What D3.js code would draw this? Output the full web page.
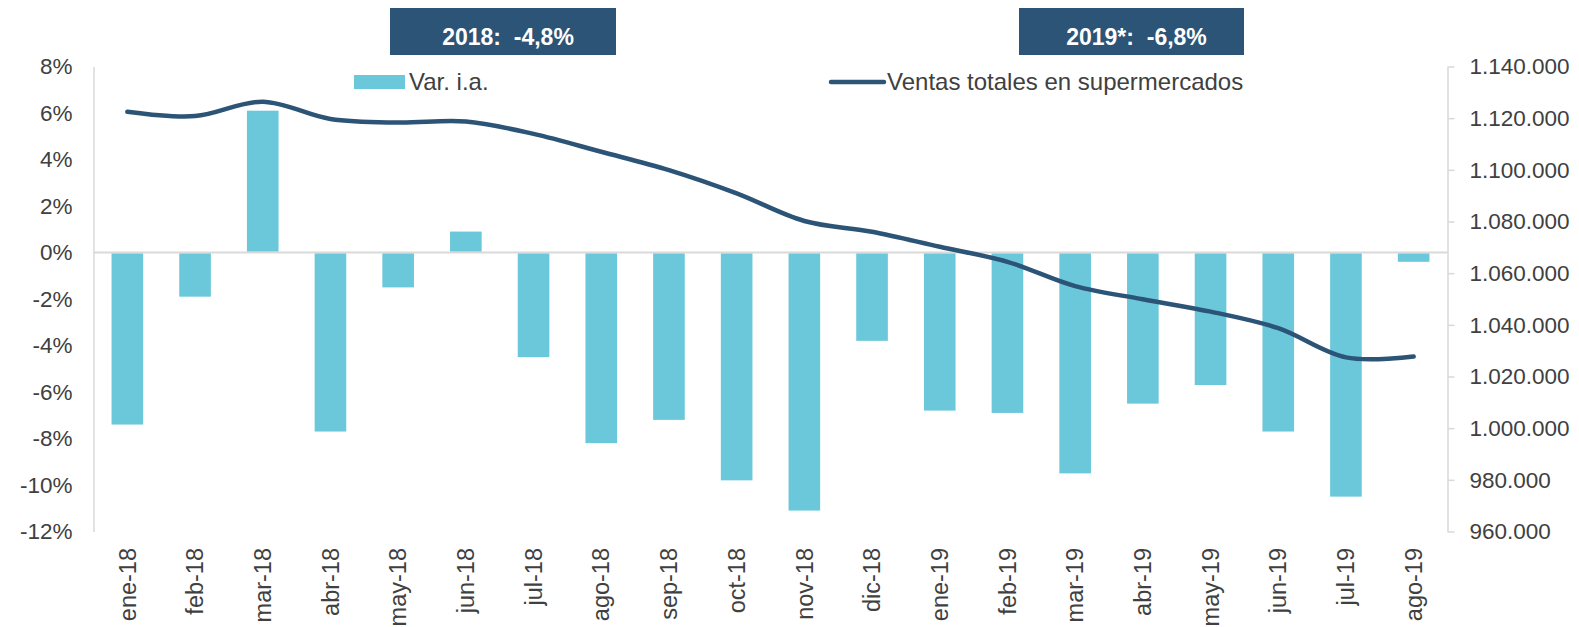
<!DOCTYPE html>
<html>
<head>
<meta charset="utf-8">
<script src="https://cdn.jsdelivr.net/npm/d3@7"></script>
<style>
  body { margin: 0; background: #fff; }
  svg { display: block; font-family: "Liberation Sans", Arial, sans-serif; }
  .axis text { fill: #404040; font-size: 22.5px; }
  .axis path, .axis line { stroke: #d9d9d9; }
</style>
</head>
<body>
<svg id="chart" width="1579" height="627"></svg>
<script>
// months on the x axis
var months = ['ene-18', 'feb-18', 'mar-18', 'abr-18', 'may-18', 'jun-18', 'jul-18', 'ago-18', 'sep-18', 'oct-18',
    'nov-18', 'dic-18', 'ene-19', 'feb-19', 'mar-19', 'abr-19', 'may-19', 'jun-19', 'jul-19', 'ago-19'];

// Var. i.a. (%)
var varIa = [-7.4, -1.9, 6.1, -7.7, -1.5, 0.9, -4.5, -8.2, -7.2, -9.8,
    -11.1, -3.8, -6.8, -6.9, -9.5, -6.5, -5.7, -7.7, -10.5, -0.4];

// Ventas totales en supermercados
var ventas = [1122500, 1120800, 1126400, 1119700, 1118300, 1118700, 1113900, 1107000, 1099900, 1090900,
    1080200, 1076000, 1070200, 1064400, 1055000, 1049900, 1045100, 1038700, 1027400, 1027700];

var leftTicks = [-12, -10, -8, -6, -4, -2, 0, 2, 4, 6, 8];
var rightTicks = [960000, 980000, 1000000, 1020000, 1040000, 1060000, 1080000, 1100000, 1120000, 1140000];

var boxes = [
    { text: '2018:  -4,8%', x0: 390, x1: 616 },
    { text: '2019*:  -6,8%', x0: 1019, x1: 1244 }
];

var barColor = '#6bc8da';
var lineColor = '#2c5477';

var svg = d3.select('#chart');
var plotLeft = 93.5, plotRight = 1447.5, plotTop = 66.5, plotBottom = 531.5;

var x = d3.scaleBand()
    .domain(months)
    .range([plotLeft, plotRight])
    .paddingInner(0.533)
    .paddingOuter(0.2665);

var yL = d3.scaleLinear().domain([-12, 8]).range([plotBottom, plotTop]);
var yR = d3.scaleLinear().domain([960000, 1140000]).range([plotBottom, plotTop]);

var es = d3.formatLocale({ decimal: ',', thousands: '.', grouping: [3], currency: ['', '€'] });
var fmtR = es.format(',d');

// left axis
var gL = svg.append('g')
    .attr('class', 'axis')
    .attr('transform', 'translate(' + plotLeft + ',0)')
    .call(d3.axisLeft(yL).tickValues(leftTicks).tickSize(0).tickPadding(21)
        .tickFormat(function (d) { return d + '%'; }));
gL.select('.domain').attr('stroke-width', 1.5);

// right axis
var gR = svg.append('g')
    .attr('class', 'axis')
    .attr('transform', 'translate(' + plotRight + ',0)')
    .call(d3.axisRight(yR).tickValues(rightTicks).tickSizeOuter(0).tickSizeInner(7).tickPadding(15)
        .tickFormat(fmtR));
gR.select('.domain').attr('stroke-width', 1.5);
gR.selectAll('.tick line').attr('stroke-width', 1.5);

// zero line
svg.append('line')
    .attr('x1', plotLeft).attr('x2', plotRight)
    .attr('y1', yL(0)).attr('y2', yL(0))
    .attr('stroke', '#d9d9d9')
    .attr('stroke-width', 2);

// bars
svg.append('g').selectAll('rect')
    .data(varIa)
    .enter().append('rect')
    .attr('x', function (d, i) { return x(months[i]); })
    .attr('width', x.bandwidth())
    .attr('y', function (d) { return d > 0 ? yL(d) : yL(0) + 1; })
    .attr('height', function (d) { return Math.abs(yL(d) - yL(0)) - 1; })
    .attr('fill', barColor);

// line
var line = d3.line()
    .x(function (d, i) { return x(months[i]) + x.bandwidth() / 2; })
    .y(function (d) { return yR(d); })
    .curve(d3.curveCatmullRom.alpha(0.5));

svg.append('path')
    .datum(ventas)
    .attr('d', line)
    .attr('fill', 'none')
    .attr('stroke', lineColor)
    .attr('stroke-width', 4.5)
    .attr('stroke-linecap', 'round');

// x axis labels
svg.append('g')
    .attr('class', 'axis')
    .selectAll('text')
    .data(months)
    .enter().append('text')
    .attr('transform', function (d) {
        return 'translate(' + (x(d) + x.bandwidth() / 2) + ',548) rotate(-90)';
    })
    .attr('dy', '0.35em')
    .attr('text-anchor', 'end')
    .style('font-size', '23.5px')
    .text(function (d) { return d; });

// legend
var legend = svg.append('g').attr('font-size', '24px').attr('fill', '#404040');
legend.append('rect').attr('x', 354).attr('y', 75).attr('width', 51).attr('height', 14).attr('fill', barColor);
legend.append('text').attr('x', 409).attr('y', 90).text('Var. i.a.');
legend.append('line').attr('x1', 831).attr('x2', 884).attr('y1', 82).attr('y2', 82)
    .attr('stroke', lineColor).attr('stroke-width', 4.5).attr('stroke-linecap', 'round');
legend.append('text').attr('x', 887).attr('y', 90).text('Ventas totales en supermercados');

// annual boxes
var bx = svg.append('g').selectAll('g').data(boxes).enter().append('g');
bx.append('rect')
    .attr('x', function (d) { return d.x0; })
    .attr('y', 8)
    .attr('width', function (d) { return d.x1 - d.x0; })
    .attr('height', 47)
    .attr('fill', lineColor);
bx.append('text')
    .attr('x', function (d) { return (d.x0 + d.x1) / 2 + 5; })
    .attr('y', 45)
    .attr('text-anchor', 'middle')
    .attr('fill', '#fff')
    .attr('font-weight', 'bold')
    .attr('font-size', '23px')
    .style('white-space', 'pre')
    .text(function (d) { return d.text; });
</script>
</body>
</html>
